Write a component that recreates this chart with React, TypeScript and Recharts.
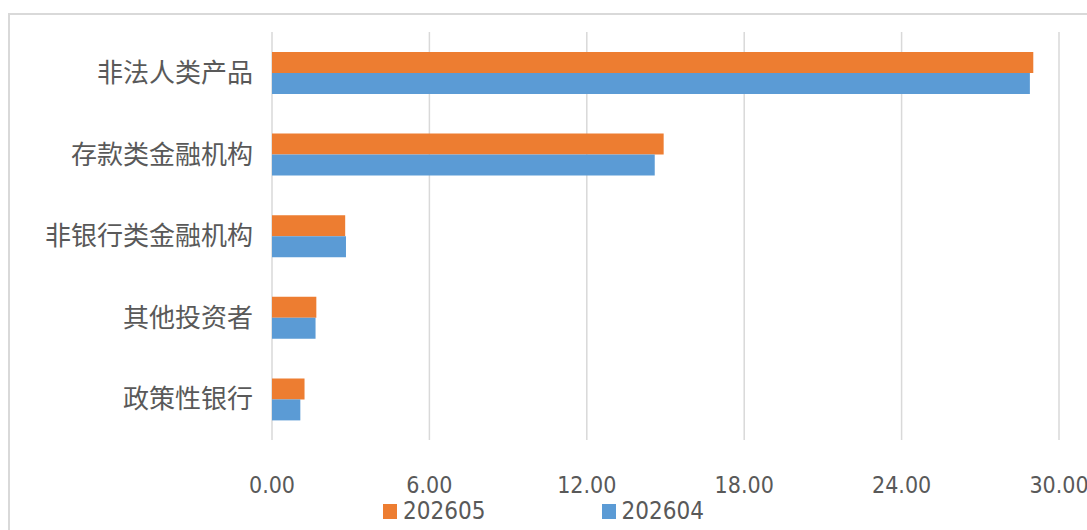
import { BarChart, Bar, XAxis, YAxis, CartesianGrid } from 'recharts';

const categories = ['非法人类产品', '存款类金融机构', '非银行类金融机构', '其他投资者', '政策性银行'];
const series202605 = [29.02, 14.93, 2.79, 1.69, 1.24];
const series202604 = [28.89, 14.59, 2.82, 1.66, 1.08];
const xTicks = [0, 6, 12, 18, 24, 30];

const data = categories.map((name, i) => ({
    name,
    s202605: series202605[i],
    s202604: series202604[i],
}));

const ORANGE = '#ED7D31';
const BLUE = '#5B9BD5';
const TEXT = '#595959';
const NUM_FONT = "'DejaVu Sans Condensed', 'Liberation Sans Narrow', 'Roboto Condensed', Roboto, sans-serif";
const CJK_FONT = "'Noto Sans CJK SC', 'Noto Sans', sans-serif";

const legendItems = [
    { label: '202605', color: ORANGE },
    { label: '202604', color: BLUE },
];

export default function App() {
    return (
        <div style={{ position: 'fixed', left: 0, top: 0, width: 1087, height: 530, background: '#fff', overflow: 'hidden' }}>
            <div style={{ position: 'absolute', left: 8, top: 13, width: 1200, height: 600, border: '2px solid #d9d9d9', boxSizing: 'border-box' }} />
            <div style={{ position: 'absolute', left: 0, top: 0 }}>
                <BarChart
                    width={1087}
                    height={530}
                    data={data}
                    layout="vertical"
                    margin={{ top: 32, right: 28, bottom: 50, left: 10 }}
                    barSize={21}
                    barGap={0}
                >
                    <CartesianGrid horizontal={false} stroke="#d9d9d9" strokeWidth={1.5} />
                    <XAxis
                        type="number"
                        domain={[0, 30]}
                        ticks={xTicks}
                        tickFormatter={(v: number) => v.toFixed(2)}
                        axisLine={false}
                        tickLine={false}
                        tickMargin={31}
                        height={40}
                        interval={0}
                        tick={{ fill: TEXT, fontSize: 23, fontFamily: NUM_FONT }}
                    />
                    <YAxis
                        type="category"
                        dataKey="name"
                        width={262}
                        axisLine={false}
                        tickLine={false}
                        tickSize={0}
                        tickMargin={19}
                        interval={0}
                        tick={{ fill: TEXT, fontSize: 26, fontFamily: CJK_FONT }}
                    />
                    <Bar dataKey="s202605" name="202605" fill={ORANGE} isAnimationActive={false} />
                    <Bar dataKey="s202604" name="202604" fill={BLUE} isAnimationActive={false} />
                </BarChart>
            </div>
            {/* legend drawn by hand, Excel-style */}
            <div style={{ position: 'absolute', left: 0, top: 497, width: 1087, display: 'flex', justifyContent: 'center', alignItems: 'center', gap: 116, fontFamily: NUM_FONT, fontSize: 24, color: TEXT }}>
                {legendItems.map((it) => (
                    <div key={it.label} style={{ display: 'flex', alignItems: 'center' }}>
                        <span style={{ display: 'inline-block', width: 14, height: 15, background: it.color, marginRight: 6 }} />
                        <span>{it.label}</span>
                    </div>
                ))}
            </div>
        </div>
    );
}
